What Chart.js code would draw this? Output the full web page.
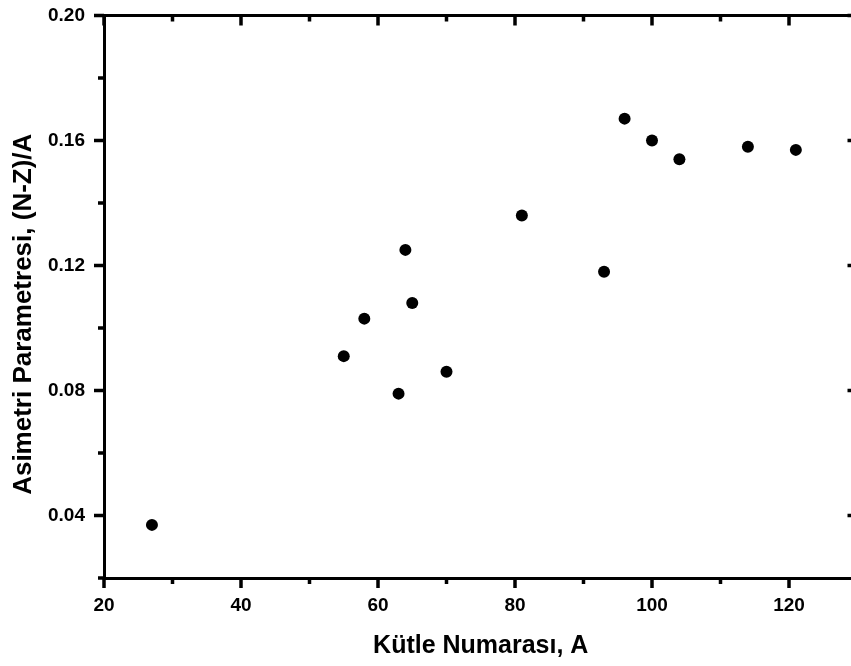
<!DOCTYPE html>
<html>
<head>
<meta charset="utf-8">
<script src="https://cdn.jsdelivr.net/npm/chart.js@4/dist/chart.umd.min.js"></script>
<style>
  html, body { margin: 0; padding: 0; background: #fff; overflow: hidden; width: 851px; height: 666px; }
  canvas { display: block; }
</style>
</head>
<body>
<canvas id="c" width="880" height="666" style="width:880px;height:666px"></canvas>
<script>
// Data
const massNumbers = [27, 55, 58, 63, 64, 65, 70, 81, 93, 96, 100, 104, 114, 121];
const asymmetry   = [0.037, 0.091, 0.103, 0.079, 0.125, 0.108, 0.086, 0.136, 0.118, 0.167, 0.160, 0.154, 0.158, 0.157];
const xTicksMajor = [20, 40, 60, 80, 100, 120];
const yTicksMajor = ['0.04', '0.08', '0.12', '0.16', '0.20'];
const xTitle = 'Kütle Numarası, A';
const yTitle = 'Asimetri Parametresi, (N-Z)/A';

const FONT = "'Liberation Sans', Arial, Helvetica, sans-serif";

const isMajorX = v => Math.abs(v % 20) < 1e-6;
const isMajorY = v => Math.round(v * 100) % 4 === 0;

const framePlugin = {
  id: 'frameTicks',
  afterDraw(chart) {
    const ctx = chart.ctx;
    const xs = chart.scales.x, ys = chart.scales.y;
    const bottom = xs.top, top = chart.scales.x2.bottom;
    const left = ys.right, right = chart.scales.y2.left;
    const MAJ = 10, MIN = 6;
    ctx.save();
    ctx.strokeStyle = '#000';
    ctx.lineWidth = 3.5;
    ctx.lineCap = 'butt';
    xs.ticks.forEach(t => {
      const px = xs.getPixelForValue(t.value);
      const len = isMajorX(t.value) ? MAJ : MIN;
      ctx.beginPath();
      ctx.moveTo(px, bottom); ctx.lineTo(px, bottom + len);
      ctx.moveTo(px, top); ctx.lineTo(px, top + len);
      ctx.stroke();
    });
    ys.ticks.forEach(t => {
      const py = ys.getPixelForValue(t.value);
      const len = isMajorY(t.value) ? MAJ : MIN;
      ctx.beginPath();
      ctx.moveTo(left, py); ctx.lineTo(left - len, py);
      ctx.moveTo(right, py); ctx.lineTo(right - len, py);
      ctx.stroke();
    });
    // y-axis title (rotated), placed like the reference (slightly below the plot centre)
    ctx.fillStyle = '#000';
    ctx.font = "bold 26px " + FONT;
    ctx.textAlign = 'center';
    ctx.textBaseline = 'middle';
    ctx.translate(23.6, (ys.top + ys.bottom) / 2 + 17.5);
    ctx.rotate(-Math.PI / 2);
    ctx.fillText(yTitle, 0, 0);
    ctx.restore();
  }
};

const noPad = s => { s.paddingTop = 0; s.paddingBottom = 0; s.paddingLeft = 0; s.paddingRight = 0; };

const tickFont = { family: FONT, size: 19, weight: 'bold' };
const hiddenAxis = (pos, sizeFn) => ({
  type: 'linear',
  position: pos,
  min: pos === 'top' ? 20 : 0.02,
  max: pos === 'top' ? 130 : 0.20,
  ticks: { display: false },
  grid: { display: true, drawOnChartArea: false, drawTicks: false },
  border: { display: true, color: '#000', width: 3 },
  afterFit: s => { sizeFn(s); noPad(s); }
});

new Chart(document.getElementById('c'), {
  type: 'scatter',
  data: {
    datasets: [{
      data: massNumbers.map((a, i) => ({ x: a, y: asymmetry[i] })),
      pointStyle: 'circle',
      pointRadius: 6,
      pointHoverRadius: 6,
      backgroundColor: '#000',
      borderColor: '#000',
      borderWidth: 0
    }]
  },
  plugins: [framePlugin],
  options: {
    responsive: false,
    animation: false,
    layout: { padding: 0 },
    plugins: { legend: { display: false }, tooltip: { enabled: false } },
    scales: {
      x: {
        type: 'linear',
        position: 'bottom',
        min: 20, max: 130,
        ticks: {
          stepSize: 10, autoSkip: false, maxRotation: 0, padding: 16,
          color: '#000', font: tickFont,
          callback: v => (xTicksMajor.includes(v) ? String(v) : '')
        },
        grid: { display: true, drawOnChartArea: false, drawTicks: false },
        border: { display: true, color: '#000', width: 3 },
        title: {
          display: true, text: xTitle, color: '#000',
          font: { family: FONT, size: 25, weight: 'bold' },
          padding: { top: 0, bottom: 5 }
        },
        afterFit: s => { s.height = 88; noPad(s); }
      },
      x2: hiddenAxis('top', s => { s.height = 15.5; }),
      y: {
        type: 'linear',
        position: 'left',
        min: 0.02, max: 0.20,
        ticks: {
          stepSize: 0.02, autoSkip: false, padding: 19,
          color: '#000', font: tickFont,
          callback: v => { const s = v.toFixed(2); return yTicksMajor.includes(s) ? s : ''; }
        },
        grid: { display: true, drawOnChartArea: false, drawTicks: false },
        border: { display: true, color: '#000', width: 3 },
        title: { display: false, text: yTitle },
        afterFit: s => { s.width = 104; noPad(s); }
      },
      y2: hiddenAxis('right', s => { s.width = 22.5; })
    }
  }
});
</script>
</body>
</html>
